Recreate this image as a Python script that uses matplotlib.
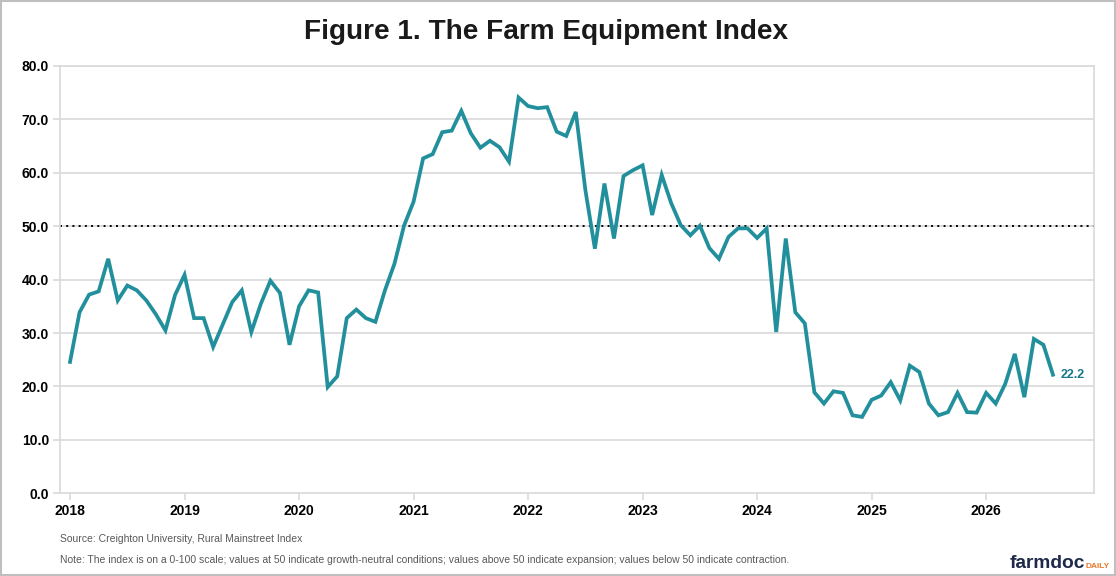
import numpy as np
import matplotlib
matplotlib.use("Agg")
import matplotlib.pyplot as plt
from matplotlib.patches import Rectangle

plt.rcParams['font.family'] = ['Liberation Sans', 'DejaVu Sans']

# monthly index values, Jan 2018 .. Aug 2026
values_2018 = [24.6, 33.9, 37.2, 37.8, 43.9, 36.1, 38.9, 38.0, 36.1, 33.5, 30.5, 37.1]
values_2019 = [40.9, 32.8, 32.8, 27.4, 31.6, 35.8, 38.0, 30.2, 35.5, 39.8, 37.5, 27.8]
values_2020 = [35.0, 38.0, 37.6, 19.9, 21.9, 32.8, 34.4, 32.8, 32.1, 38.0, 43.0, 50.1]
values_2021 = [54.6, 62.7, 63.5, 67.6, 67.9, 71.6, 67.4, 64.7, 66.0, 64.8, 62.1, 74.1]
values_2022 = [72.5, 72.1, 72.3, 67.7, 66.9, 71.4, 56.8, 45.8, 58.0, 47.7, 59.4, 60.5]
values_2023 = [61.4, 52.1, 59.6, 54.3, 50.2, 48.3, 50.1, 45.9, 43.9, 48.0, 49.6, 49.6]
values_2024 = [47.8, 49.6, 30.2, 47.7, 33.9, 31.8, 18.9, 16.8, 19.1, 18.8, 14.6, 14.3]
values_2025 = [17.5, 18.3, 20.8, 17.4, 23.9, 22.7, 16.8, 14.6, 15.2, 18.8, 15.2, 15.1]
values_2026 = [18.8, 16.8, 20.5, 26.1, 18.0, 28.9, 27.8, 22.2]

years = [2018, 2019, 2020, 2021, 2022, 2023, 2024, 2025, 2026]
y_ticks = [0, 10, 20, 30, 40, 50, 60, 70, 80]
neutral_level = 50

values = np.array(values_2018 + values_2019 + values_2020 + values_2021 + values_2022
                  + values_2023 + values_2024 + values_2025 + values_2026)
months = np.arange(len(values))  # month index from Jan 2018

line_color = '#22909c'
label_color = '#17788a'
grid_color = '#d9d9d9'

fig = plt.figure(figsize=(11.16, 5.76), dpi=100)
ax = fig.add_axes([60 / 1116, 1 - 493.3 / 576, (1094 - 60) / 1116, (493.3 - 66) / 576])

# grid and reference line
for y in y_ticks[1:]:
    ax.axhline(y, color=grid_color, linewidth=1.2, zorder=1)
ax.axhline(neutral_level, color='black', linewidth=1.4, linestyle=(0, (1, 2.2)), zorder=2)

ax.plot(months, values, color=line_color, linewidth=2.7, solid_joinstyle='miter', zorder=3)

# last value label
ax.text(months[-1] + 0.8, values[-1], f"{values[-1]:.1f}", color=label_color,
        fontsize=9, fontweight='bold', va='center', ha='left')

ax.set_xlim(-1.05, 107.3)
ax.set_ylim(0, 80)
ax.set_yticks(y_ticks)
ax.set_yticklabels([f"{v:.1f}" for v in y_ticks])
ax.set_xticks([(yr - 2018) * 12 for yr in years])
ax.set_xticklabels([str(yr) for yr in years])
ax.tick_params(axis='both', colors=grid_color, labelcolor='black', length=5, width=1.2,
               labelsize=10)
ax.tick_params(axis='x', pad=3)
ax.tick_params(axis='y', pad=3)
for lbl in ax.get_xticklabels() + ax.get_yticklabels():
    lbl.set_fontweight('bold')

for side in ['top', 'bottom', 'left', 'right']:
    ax.spines[side].set_color(grid_color)
    ax.spines[side].set_linewidth(1.2)

# title
fig.text(546 / 1116, 1 - 32 / 576, "Figure 1. The Farm Equipment Index", ha='center', va='center',
         fontsize=20.2, fontweight='bold', color='#1a1a1a')

# footnotes
fig.text(60 / 1116, 1 - 539 / 576, "Source: Creighton University, Rural Mainstreet Index",
         fontsize=7.5, color='#595959', va='center')
fig.text(60 / 1116, 1 - 560 / 576,
         "Note: The index is on a 0-100 scale; values at 50 indicate growth-neutral conditions; "
         "values above 50 indicate expansion; values below 50 indicate contraction.",
         fontsize=7.5, color='#595959', va='center')

# logo
fig.text(1085 / 1116, 1 - 568 / 576, "farmdoc", ha='right', va='baseline',
         fontsize=13.8, fontweight='bold', color='#1f2a4a')
fig.text(1085 / 1116, 1 - 568 / 576, "DAILY", ha='left', va='baseline',
         fontsize=6, fontweight='bold', color='#e8792a')

# figure border
fig.patches.append(Rectangle((0.001, 0.001), 0.998, 0.997, transform=fig.transFigure,
                             fill=False, edgecolor='#bfbfbf', linewidth=1.5))

fig.savefig("out.png", dpi=100)
